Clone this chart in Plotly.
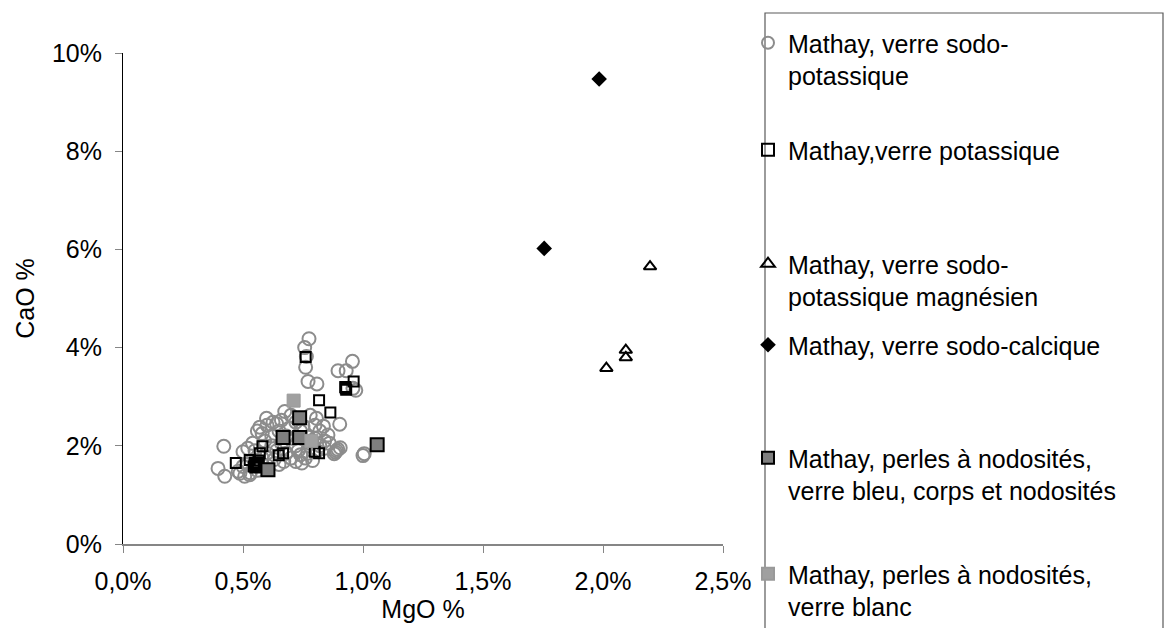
import plotly.graph_objects as go

# ---- data (values in %) ----
sodo_pot_mgo = [0.775, 0.757, 0.764, 0.761, 0.771, 0.808, 0.956, 0.896, 0.930, 0.970, 0.958,
                0.674, 0.700, 0.806, 0.780, 0.903, 0.835, 0.854, 0.598, 0.625, 0.570, 0.600,
                0.640, 0.660, 0.720, 0.750, 0.800, 0.820, 0.740, 0.690, 0.650, 0.580, 0.560,
                0.620, 0.680, 0.710, 0.770, 0.800, 0.840, 0.860, 0.820, 0.780, 0.720, 0.660,
                0.620, 0.590, 0.540, 0.520, 0.500, 0.550, 0.600, 0.640, 0.680, 0.730, 0.770,
                0.810, 0.840, 0.740, 0.760, 0.700, 0.670, 0.630, 0.580, 0.550, 0.520, 0.500,
                0.480, 0.530, 0.560, 0.600, 0.650, 0.720, 0.790, 0.745,
                0.420, 0.396, 0.424, 0.487, 0.507, 0.528,
                0.880, 0.885, 0.890, 0.895, 0.905, 1.005, 1.000]
sodo_pot_cao = [4.18, 4.00, 3.82, 3.60, 3.31, 3.26, 3.72, 3.53, 3.53, 3.13, 3.17,
                2.70, 2.62, 2.56, 2.62, 2.44, 2.40, 2.22, 2.56, 2.48, 2.38, 2.42,
                2.45, 2.52, 2.48, 2.40, 2.42, 2.30, 2.30, 2.35, 2.30, 2.25, 2.30,
                2.20, 2.20, 2.15, 2.18, 2.15, 2.10, 2.05, 2.00, 2.05, 2.00, 2.05,
                2.00, 2.10, 2.05, 1.95, 1.88, 1.90, 1.85, 1.90, 1.85, 1.90, 1.85,
                1.90, 1.95, 1.82, 1.75, 1.75, 1.68, 1.72, 1.75, 1.70, 1.62, 1.58,
                1.48, 1.45, 1.50, 1.60, 1.62, 1.68, 1.70, 1.65,
                1.99, 1.54, 1.38, 1.44, 1.38, 1.41,
                1.84, 1.87, 1.90, 1.93, 1.96, 1.84, 1.80]

pot_mgo = [0.761, 0.961, 0.926, 0.930, 0.928, 0.817, 0.864, 0.581, 0.570, 0.470, 0.528,
           0.549, 0.559, 0.545, 0.553, 0.555, 0.562, 0.566, 0.552, 0.649, 0.667, 0.799, 0.817]
pot_cao = [3.81, 3.31, 3.20, 3.14, 3.17, 2.93, 2.68, 1.99, 1.85, 1.65, 1.71,
           1.65, 1.61, 1.58, 1.60, 1.62, 1.66, 1.70, 1.56, 1.81, 1.85, 1.88, 1.85]

magn_mgo = [2.196, 2.095, 2.095, 2.014]
magn_cao = [5.65, 3.95, 3.80, 3.58]

calc_mgo = [1.984, 1.755]
calc_cao = [9.47, 6.02]

bleu_mgo = [0.736, 0.667, 0.736, 1.059, 0.604]
bleu_cao = [2.57, 2.17, 2.17, 2.02, 1.51]

blanc_mgo = [0.711, 0.785]
blanc_cao = [2.92, 2.10]

names = ["Mathay, verre sodo-<br>potassique",
         "Mathay,verre potassique",
         "Mathay, verre sodo-<br>potassique magnésien",
         "Mathay, verre sodo-calcique",
         "Mathay, perles à nodosités,<br>verre bleu, corps et nodosités",
         "Mathay, perles à nodosités,<br>verre blanc"]

x_ticks = [0, 0.5, 1.0, 1.5, 2.0, 2.5]
x_labels = ["0,0%", "0,5%", "1,0%", "1,5%", "2,0%", "2,5%"]
y_ticks = [0, 2, 4, 6, 8, 10]
y_labels = ["0%", "2%", "4%", "6%", "8%", "10%"]

FONT = "Liberation Sans, Arial, sans-serif"
FS = 25
W, H = 1165, 628
L, R, T, B = 123, 723, 53, 544

fig = go.Figure()
fig.add_trace(go.Scatter(x=sodo_pot_mgo, y=sodo_pot_cao, mode="markers", name=names[0],
                         marker=dict(symbol="circle-open", size=13, color="#8c8c8c",
                                     line=dict(width=2, color="#8c8c8c")),
                         legend="legend"))
fig.add_trace(go.Scatter(x=pot_mgo, y=pot_cao, mode="markers", name=names[1],
                         marker=dict(symbol="square-open", size=10, color="#000000",
                                     line=dict(width=2, color="#000000")),
                         legend="legend2"))
fig.add_trace(go.Scatter(x=magn_mgo, y=magn_cao, mode="markers", name=names[2],
                         marker=dict(symbol="triangle-up-open", size=11, color="#000000",
                                     line=dict(width=2, color="#000000")),
                         legend="legend3"))
fig.add_trace(go.Scatter(x=calc_mgo, y=calc_cao, mode="markers", name=names[3],
                         marker=dict(symbol="diamond", size=12, color="#000000",
                                     line=dict(width=0)),
                         legend="legend4"))
fig.add_trace(go.Scatter(x=bleu_mgo, y=bleu_cao, mode="markers", name=names[4],
                         marker=dict(symbol="square", size=13, color="#7f7f7f",
                                     line=dict(width=2, color="#000000")),
                         legend="legend5"))
fig.add_trace(go.Scatter(x=blanc_mgo, y=blanc_cao, mode="markers", name=names[5],
                         marker=dict(symbol="square", size=13, color="#a0a0a0",
                                     line=dict(width=1, color="#999999")),
                         legend="legend6"))

def py(p):
    return (B - p) / (B - T)

def px(p):
    return (p - L) / (R - L)

leg_tops = [20, 127, 241, 322, 435, 551]
leg_common = dict(x=px(748), xanchor="left", yanchor="top", bgcolor="rgba(0,0,0,0)",
                  borderwidth=0, font=dict(family=FONT, size=FS, color="#000000"),
                  itemsizing="constant", tracegroupgap=0, valign="top")
legends = {}
for i, top in enumerate(leg_tops):
    key = "legend" if i == 0 else f"legend{i+1}"
    legends[key] = dict(leg_common, y=py(top))

fig.update_layout(
    width=W, height=H,
    margin=dict(l=L, r=W - R, t=T, b=H - B, autoexpand=False),
    paper_bgcolor="white", plot_bgcolor="white",
    font=dict(family=FONT, size=FS, color="#000000"),
    showlegend=True,
    **legends,
    xaxis=dict(range=[0, 2.5], tickvals=x_ticks, ticktext=x_labels,
               showgrid=False, zeroline=False, showline=True, linecolor="#868686",
               linewidth=1.5, ticks="outside", ticklen=7, tickcolor="#868686",
               ticklabelstandoff=7,
               tickfont=dict(size=FS), title=dict(text="MgO %", font=dict(size=FS), standoff=2)),
    yaxis=dict(range=[0, 10], tickvals=y_ticks, ticktext=y_labels,
               showgrid=False, zeroline=False, showline=True, linecolor="#000000",
               linewidth=1, ticks="outside", ticklen=7, tickcolor="#868686",
               ticklabelstandoff=8,
               tickfont=dict(size=FS), title=dict(text="CaO %", font=dict(size=FS), standoff=10)),
    shapes=[dict(type="rect", xref="paper", yref="paper",
                 x0=px(765), x1=px(1163), y0=py(660), y1=py(13),
                 line=dict(color="#5a5a5a", width=1.2), fillcolor="rgba(0,0,0,0)")],
)

fig.write_html("out.html", config={"displayModeBar": False},
               post_script="document.body.style.margin='0';")
